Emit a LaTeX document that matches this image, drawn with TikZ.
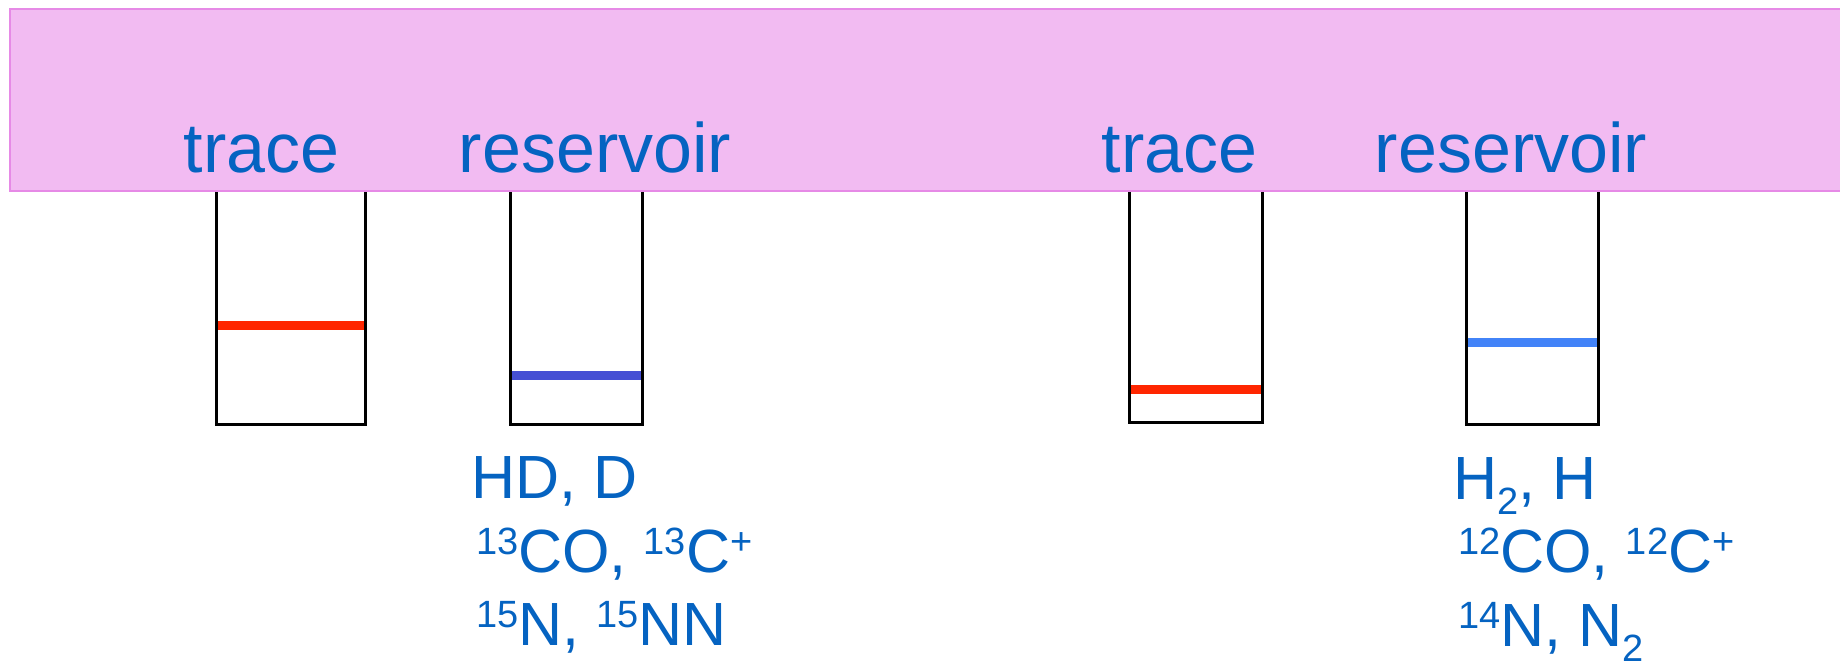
\documentclass[tikz,border=0pt]{standalone}
\usepackage{fontspec}
\setmainfont{Liberation Sans}
\definecolor{bandfill}{HTML}{F2BBF2}
\definecolor{banddraw}{HTML}{E68AE6}
\definecolor{txtblue}{HTML}{0563C1}
\definecolor{lvlred}{HTML}{FF2600}
\definecolor{lvlblue}{HTML}{454FD4}
\definecolor{lvllight}{HTML}{4283F8}
\newcommand\isup[1]{\raisebox{18pt}{\fontsize{38}{38}\selectfont #1}}
\newcommand\isub[1]{\raisebox{-15pt}{\fontsize{38}{38}\selectfont #1}}
\begin{document}
\begin{tikzpicture}[x=1pt,y=-1pt,
  headtext/.style={text=txtblue, inner sep=0pt, anchor=base, font=\fontsize{70}{84}\selectfont},
  species/.style={text=txtblue, inner sep=0pt, anchor=base west, font=\fontsize{61}{74}\selectfont},
  wall/.style={line width=3pt, draw=black, line join=miter},
  level/.style={line width=9pt}]
\useasboundingbox (0,0) rectangle (1840,661);
% band
\fill[bandfill] (10,9) rectangle (1840,191);
\draw[draw=banddraw, line width=2pt] (1840,9) -- (10,9) -- (10,191) -- (1840,191);
% containers
\draw[wall] (216,192) -- (216,424) -- (365,424) -- (365,192);
\draw[wall] (510,192) -- (510,424) -- (642,424) -- (642,192);
\draw[wall] (1129,192) -- (1129,422) -- (1262,422) -- (1262,192);
\draw[wall] (1466,192) -- (1466,424) -- (1598,424) -- (1598,192);
% levels
\draw[level, lvlred] (217.5,325) -- (363.5,325);
\draw[level, lvlblue] (511.5,375) -- (640.5,375);
\draw[level, lvlred] (1130.5,389) -- (1260.5,389);
\draw[level, lvllight] (1467.5,342) -- (1596.5,342);
% headings
\node[headtext] (trL) at (261.5,172) {trace};
\node[headtext] (reL) at (595,172) {reservoir};
\node[headtext] (trR) at (1179.5,172) {trace};
\node[headtext] (reR) at (1511,172) {reservoir};
% species
\node[species] (spL1) at (471,498) {HD, D};
\node[species] (spL2) at (476,572) {\isup{13}CO, \isup{13}C\isup{+}};
\node[species] (spL3) at (476,645) {\isup{15}N, \isup{15}NN};
\node[species] (spR1) at (1453,499) {H\isub{2}, H};
\node[species] (spR2) at (1458,572) {\isup{12}CO, \isup{12}C\isup{+}};
\node[species] (spR3) at (1458,646) {\isup{14}N, N\isub{2}};
\end{tikzpicture}
\end{document}
